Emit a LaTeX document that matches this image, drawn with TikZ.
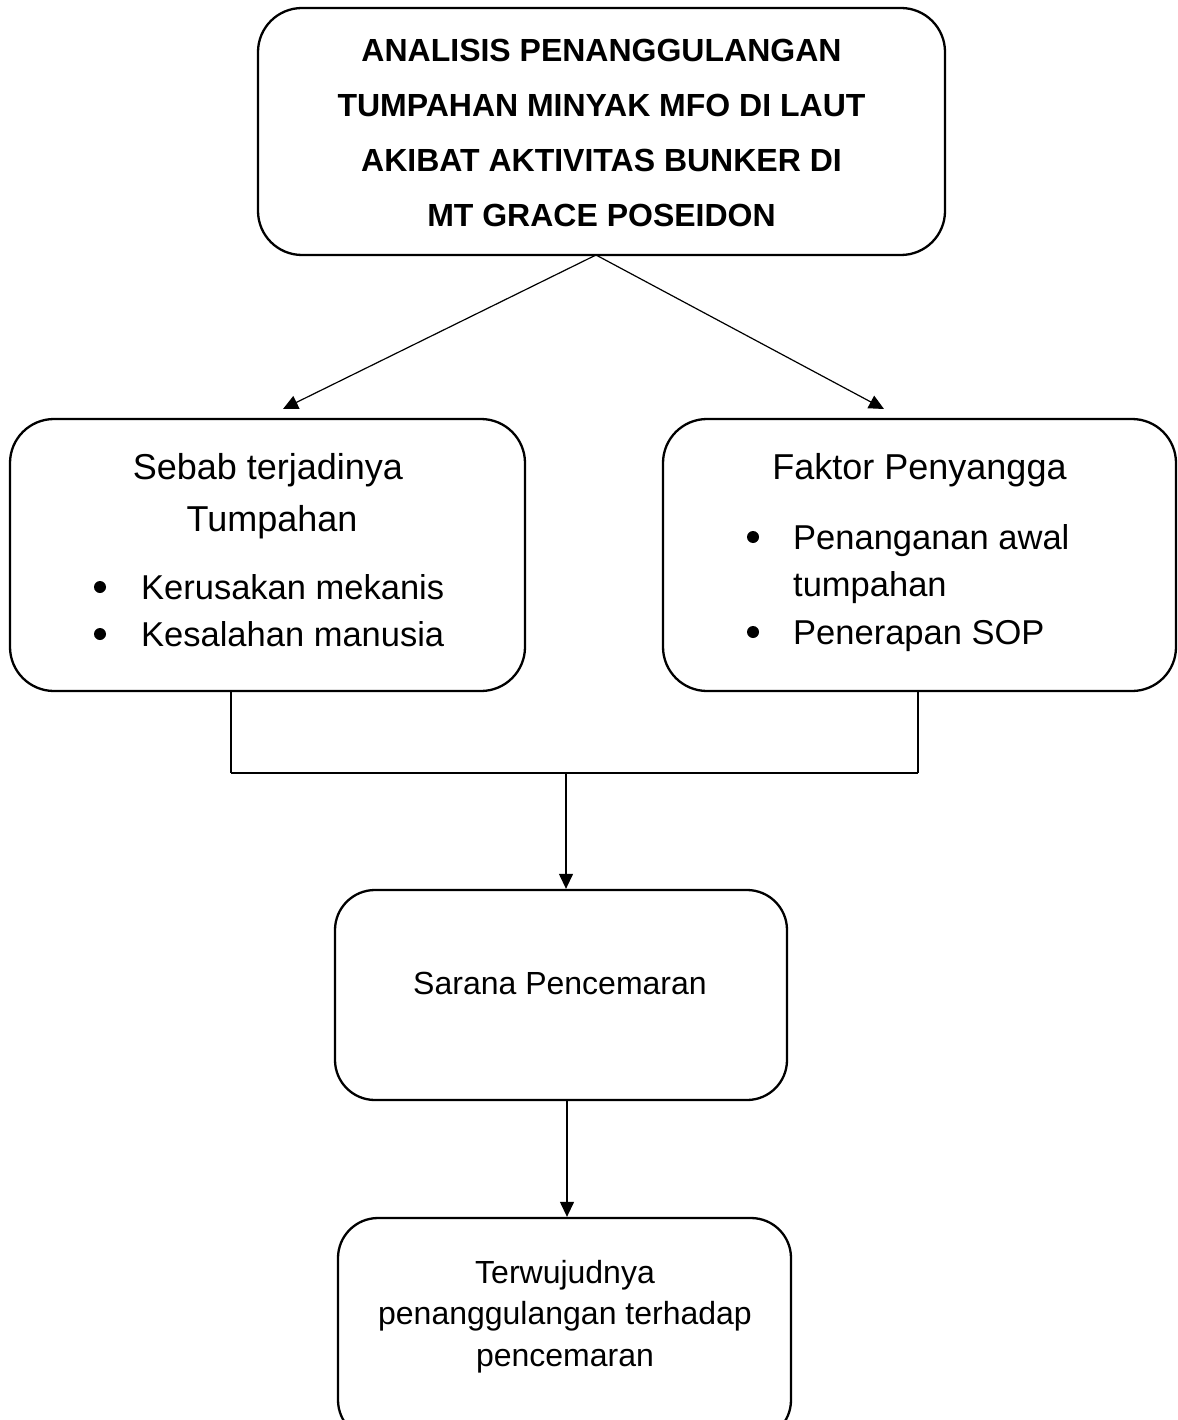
\documentclass[tikz,border=0pt]{standalone}
\usepackage{fontspec}
\setmainfont{Liberation Sans}
\usetikzlibrary{arrows.meta}
\begin{document}
\begin{tikzpicture}[x=1pt,y=-1pt,
  box/.style={draw,line width=2.3pt,rounded corners=44pt,inner sep=0pt,fill=none},
  conn/.style={line width=1.2pt},
  arr/.style={conn,-{Triangle[length=15pt,width=14pt]}},
  head/.style={font=\fontsize{36}{40}\selectfont,anchor=base,inner sep=0pt},
  item/.style={font=\fontsize{34.5}{40}\selectfont,anchor=base west,inner sep=0pt},
  small/.style={font=\fontsize{32}{38}\selectfont,anchor=base,inner sep=0pt},
  ttl/.style={font=\fontsize{32}{38}\bfseries\selectfont,anchor=base,inner sep=0pt},
  dot/.style={circle,fill,inner sep=0pt,minimum size=12pt}]
\clip (0,0) rectangle (1177,1420);
\fill[white] (0,0) rectangle (1177,1420);
% boxes
\node[box,minimum width=687pt,minimum height=247pt] (top) at (601.5,131.5) {};
\node[box,minimum width=515pt,minimum height=272pt] (left) at (267.5,555) {};
\node[box,minimum width=513pt,minimum height=272pt] (right) at (919.5,555) {};
\node[box,minimum width=452pt,minimum height=210pt,rounded corners=40pt] (mid) at (561,995) {};
\node[box,minimum width=453pt,minimum height=222pt,rounded corners=40pt] (bot) at (564.5,1329) {};
% title
\node[ttl] (t1) at (601.5,61.5) {ANALISIS PENANGGULANGAN};
\node[ttl] (t2) at (601.5,116.5) {TUMPAHAN MINYAK MFO DI LAUT};
\node[ttl] (t3) at (601.5,171.5) {AKIBAT AKTIVITAS BUNKER DI};
\node[ttl] (t4) at (601.5,226.5) {MT GRACE POSEIDON};
% left box
\node[head] (l1) at (268,479) {Sebab terjadinya};
\node[head] (l2) at (272,531) {Tumpahan};
\node[dot] (lb1) at (100,587) {};
\node[dot] (lb2) at (100,634) {};
\node[item] (li1) at (141,599) {Kerusakan mekanis};
\node[item] (li2) at (141,646) {Kesalahan manusia};
% right box
\node[head] (r1) at (919.5,479) {Faktor Penyangga};
\node[dot] (rb1) at (753,537) {};
\node[dot] (rb2) at (753,632) {};
\node[item] (ri1) at (793,549) {Penanganan awal};
\node[item] (ri2) at (793,596) {tumpahan};
\node[item] (ri3) at (793,644) {Penerapan SOP};
% middle
\node[small] (m1) at (560,994.5) {Sarana Pencemaran};
% bottom
\node[small] (b1) at (565,1283) {Terwujudnya};
\node[small] (b2) at (565,1324) {penanggulangan terhadap};
\node[small] (b3) at (565,1366) {pencemaran};
% connectors
\coordinate (la) at (283,409);
\coordinate (ra) at (884,409);
\coordinate (src) at (596,255);
\draw[arr] (src) -- (la);
\draw[arr] (src) -- (ra);
\coordinate (jl) at (231,773);
\coordinate (jr) at (918,773);
\coordinate (jm) at (566,773);
\draw[conn] (left.south -| jl) -- (jl);
\draw[conn] (right.south -| jr) -- (jr);
\draw[line width=2.8pt] (jl) -- (jr);
\draw[arr] (jm) -- (jm |- mid.north);
\coordinate (mb) at (567,1100);
\draw[arr] (mb) -- (mb |- bot.north);
\end{tikzpicture}
\end{document}
